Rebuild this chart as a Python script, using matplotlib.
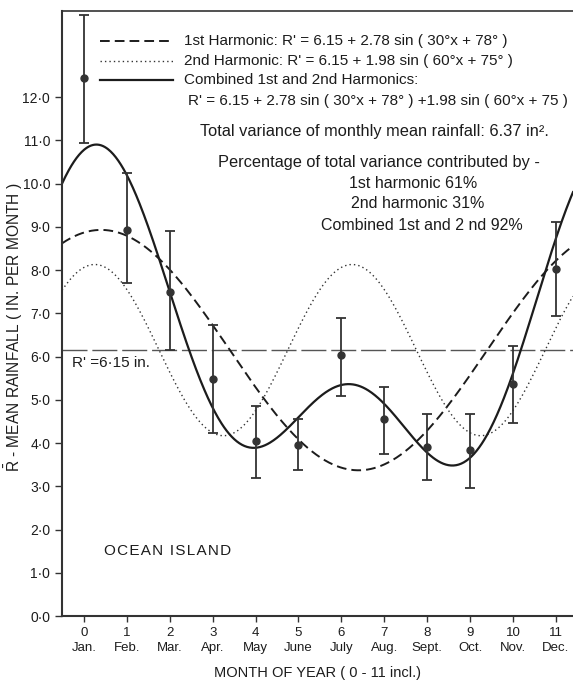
import numpy as np
import matplotlib
matplotlib.use("Agg")
import matplotlib.pyplot as plt

plt.rcParams['font.family'] = ['Liberation Sans', 'DejaVu Sans']
plt.rcParams['mathtext.fontset'] = 'custom'
plt.rcParams['mathtext.rm'] = 'Liberation Sans'

# ---- data ----
months = [0, 1, 2, 3, 4, 5, 6, 7, 8, 9, 10, 11]
month_names = ["Jan.", "Feb.", "Mar.", "Apr.", "May", "June", "July",
               "Aug.", "Sept.", "Oct.", "Nov.", "Dec."]
mean_rain = [12.45, 8.93, 7.50, 5.48, 4.04, 3.96, 6.03, 4.55, 3.92, 3.84, 5.36, 8.03]
err_low = [10.94, 7.70, 6.16, 4.24, 3.20, 3.38, 5.08, 3.75, 3.15, 2.96, 4.46, 6.94]
err_high = [13.90, 10.25, 8.91, 6.74, 4.85, 4.56, 6.90, 5.29, 4.67, 4.67, 6.25, 9.12]

# harmonic coefficients shown on the chart: R' = a0 + amp*sin(freq*x + phase)
a0 = 6.15
h1_amp, h1_freq, h1_phase = 2.78, 30.0, 78.0
h2_amp, h2_freq, h2_phase = 1.98, 60.0, 75.0

y_ticks = [0, 1, 2, 3, 4, 5, 6, 7, 8, 9, 10, 11, 12]
y_ticklabels = ["0\u00b70", "1\u00b70", "2\u00b70", "3\u00b70", "4\u00b70", "5\u00b70", "6\u00b70",
                "7\u00b70", "8\u00b70", "9\u00b70", "10\u00b70", "11\u00b70", "12\u00b70"]

# ---- figure ----
W, H = 573, 684
fig = plt.figure(figsize=(W / 100, H / 100), dpi=100)
ax_left, ax_top, ax_bottom, ax_right = 62, 10.7, 616, 573
ax = fig.add_axes([ax_left / W, 1 - ax_bottom / H, (ax_right - ax_left) / W, (ax_bottom - ax_top) / H])

xmin, xmax = -0.513, 11.40
ax.set_xlim(xmin, xmax)
ax.set_ylim(0, 14.0)

ink = "#1c1c1c"
xs = np.linspace(xmin, xmax, 600)
h1 = a0 + h1_amp * np.sin(np.radians(h1_freq * xs + h1_phase))
h2 = a0 + h2_amp * np.sin(np.radians(h2_freq * xs + h2_phase))
comb = a0 + h1_amp * np.sin(np.radians(h1_freq * xs + h1_phase)) + h2_amp * np.sin(np.radians(h2_freq * xs + h2_phase))

ax.axhline(a0, color="#555555", lw=1.0, dashes=(18, 3.5))
ax.plot(xs, h1, color=ink, lw=1.4, dashes=(5.0, 2.6))
ax.plot(xs, h2, color="#333333", lw=1.0, dashes=(1.0, 2.2))
ax.plot(xs, comb, color=ink, lw=1.6)

m = np.array(mean_rain)
yerr = np.vstack([m - np.array(err_low), np.array(err_high) - m])
ax.errorbar(months, mean_rain, yerr=yerr, fmt='o', color="#333333", ms=5,
            elinewidth=1.3, capsize=3.5, capthick=1.3, zorder=5)

# axes styling
ax.spines['right'].set_visible(False)
for s in ['left', 'bottom']:
    ax.spines[s].set_linewidth(1.5)
    ax.spines[s].set_color("#333333")
ax.spines['top'].set_linewidth(1.2)
ax.spines['top'].set_color("#333333")

ax.set_yticks(y_ticks)
ax.set_yticklabels(y_ticklabels, fontsize=10)
ax.set_xticks(months)
ax.set_xticklabels([f"{n}\n{nm}" for n, nm in zip(months, month_names)], fontsize=9.5, linespacing=1.3)
ax.tick_params(axis='both', direction='out', length=5, width=1.0, color="#333333", labelcolor=ink)
ax.tick_params(axis='x', length=4, pad=4)

ax.set_xlabel("MONTH OF YEAR ( 0 - 11 incl.)", fontsize=10.5, color=ink, labelpad=9)
fig.text(14 / W, 1 - 327 / H, r"$\bar{\mathrm{R}}$ - MEAN RAINFALL ( IN. PER MONTH )", rotation=90,
         ha='center', va='center', fontsize=11.2, color=ink)


def P(px, py):
    return (px / W, 1 - py / H)


# legend-like annotation block
fs = 11
leg = [(41, dict(color=ink, lw=1.4, dashes=(5.0, 2.6))),
       (60.7, dict(color="#333333", lw=1.0, dashes=(1.0, 2.2))),
       (80, dict(color=ink, lw=1.6))]
for py, kw in leg:
    x0, y0 = P(100, py)
    x1, _ = P(173, py)
    fig.add_artist(plt.Line2D([x0, x1], [y0, y0], transform=fig.transFigure, **kw))

fig.text(*P(184, 41), "1st Harmonic: R' = 6.15 + 2.78 sin ( 30\u00b0x + 78\u00b0 )", fontsize=fs, va='center', color=ink)
fig.text(*P(184, 60.7), "2nd Harmonic: R' = 6.15 + 1.98 sin ( 60\u00b0x + 75\u00b0 )", fontsize=fs, va='center', color=ink)
fig.text(*P(184, 80), "Combined 1st and 2nd Harmonics:", fontsize=fs, va='center', color=ink)
fig.text(*P(188, 101.5), "R' = 6.15 + 2.78 sin ( 30\u00b0x + 78\u00b0 ) +1.98 sin ( 60\u00b0x + 75 )", fontsize=fs, va='center', color=ink)
fig.text(*P(200, 131.5), "Total variance of monthly mean rainfall: 6.37 in\u00b2.", fontsize=11.8, va='center', color=ink)
fig.text(*P(218, 163), "Percentage of total variance contributed by -", fontsize=11.8, va='center', color=ink)
fig.text(*P(413, 183), "1st harmonic 61%", fontsize=11.5, va='center', ha='center', color=ink)
fig.text(*P(418, 204), "2nd harmonic 31%", fontsize=11.5, va='center', ha='center', color=ink)
fig.text(*P(422, 225), "Combined 1st and 2 nd 92%", fontsize=11.5, va='center', ha='center', color=ink)

fig.text(*P(72, 363), "R' =6\u00b715 in.", fontsize=11, va='center', color=ink)
fig.text(*P(104, 551), "\u200a".join("OCEAN ISLAND"), fontsize=11, va='center', color=ink)

fig.savefig("out.png", dpi=100)
